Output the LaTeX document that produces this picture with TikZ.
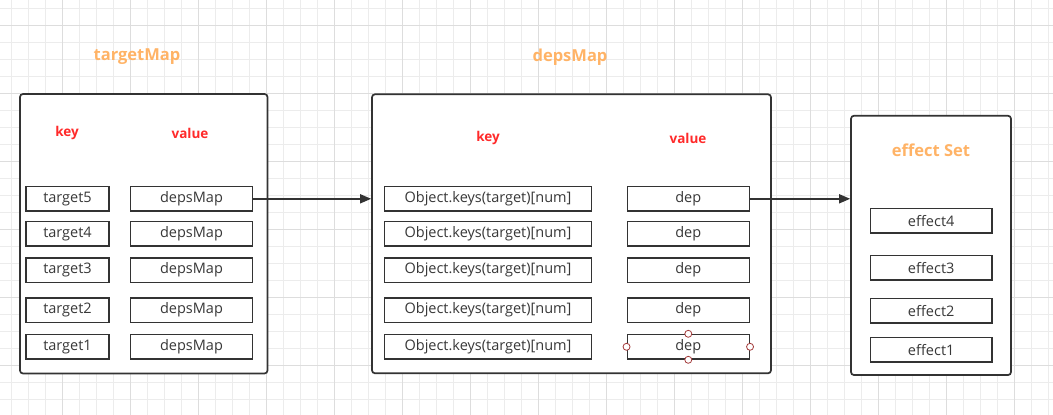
\documentclass[tikz,border=0pt]{standalone}
\usepackage{fontspec}
\setmainfont{Open Sans}
\usetikzlibrary{arrows.meta}
\definecolor{ink}{HTML}{333333}
\definecolor{txt}{HTML}{383838}
\definecolor{ttl}{HTML}{FFB366}
\definecolor{kred}{HTML}{FF2A2A}
\definecolor{gmin}{HTML}{ECECEC}
\definecolor{gmaj}{HTML}{DDDDDD}
\definecolor{hnd}{HTML}{A33A3A}
\begin{document}
\begin{tikzpicture}[x=1pt,y=-1pt,
  outerbox/.style={draw=ink, line width=1.7pt, fill=white, rounded corners=3pt, inner sep=0pt},
  cell/.style={draw=ink, line width=1.5pt, fill=white, inner sep=0pt, minimum height=24.5pt,
    text=txt, font=\fontsize{14.5}{15}\selectfont},
  title/.style={text=ttl, font=\fontsize{16.5}{18}\selectfont\bfseries},
  head/.style={text=kred, font=\fontsize{13.5}{15}\selectfont\bfseries},
  link/.style={draw=ink, line width=1.6pt, -{Triangle[length=11pt,width=9pt]}},
  handle/.style={circle, draw=hnd, fill=white, line width=0.8pt, minimum size=7pt, inner sep=0pt}]
\useasboundingbox (0,0) rectangle (1053,415);
% grid
\foreach \x in {11,28,...,1053} \draw[gmin, line width=0.8pt] (\x,0) -- (\x,415);
\foreach \y in {8,25,...,415} \draw[gmin, line width=0.8pt] (0,\y) -- (1053,\y);
\foreach \x in {62,130,...,1053} \draw[gmaj, line width=0.8pt] (\x,0) -- (\x,415);
\foreach \y in {25,93,...,415} \draw[gmaj, line width=0.8pt] (0,\y) -- (1053,\y);

% titles
\node[title] (t1) at (137,57) {targetMap};
\node[title] (t2) at (570,57) {depsMap};

% outer boxes
\node[outerbox, minimum width=247.5pt, minimum height=279.5pt] (box1) at (143.75,233.75) {};
\node[outerbox, minimum width=399pt, minimum height=279pt] (box2) at (571.5,233.8) {};
\node[outerbox, minimum width=160pt, minimum height=259.3pt] (box3) at (931,245.4) {};

% headers
\node[head] (k1) at (67,133) {key};
\node[head] (v1) at (190,133) {value};
\node[head] (k2) at (488,138) {key};
\node[head] (v2) at (688,138) {value};
\node[title] (t3) at (931,150) {effect Set};

% rows
\foreach \i/\y in {5/198.8,4/233.8,3/270,2/310,1/346.8}{
  \node[cell, minimum width=83pt] (tg\i) at (67.5,\y) {target\i};
  \node[cell, minimum width=121.6pt] (dm\i) at (191.5,\y) {depsMap};
  \node[cell, minimum width=207.4pt] (ok\i) at (488,\y) {Object.keys(target)[num]};
  \node[cell, minimum width=122pt] (dp\i) at (688.3,\y) {dep};
}
\foreach \i/\y in {4/220.8,3/267.8,2/310.8,1/349.8}{
  \node[cell, minimum width=121.5pt] (ef\i) at (931.2,\y) {effect\i};
}

% arrows
\draw[link] (dm5.east) -- (dm5.east -| box2.west);
\draw[link] (dp5.east) -- (dp5.east -| box3.west);

% selection handles
\node[handle] (h1) at (dp1.north) {};
\node[handle] (h2) at (dp1.south) {};
\node[handle] (h3) at (dp1.west) {};
\node[handle] (h4) at (dp1.east) {};
\end{tikzpicture}
\end{document}
